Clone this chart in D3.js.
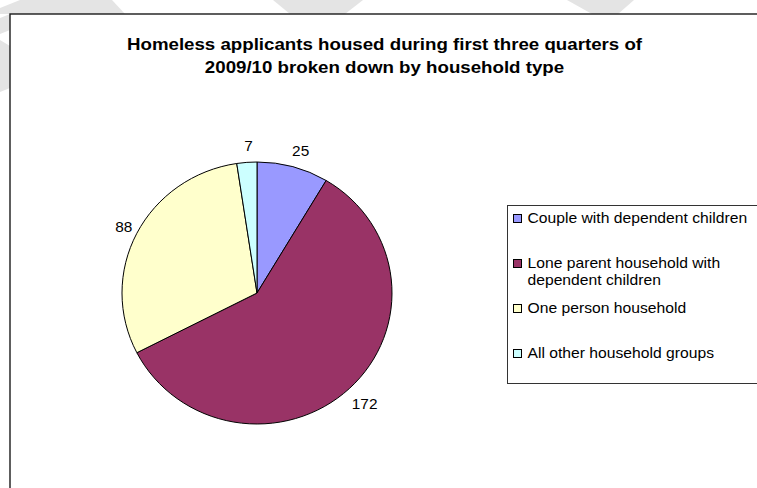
<!DOCTYPE html>
<html>
<head>
<meta charset="utf-8">
<script src="https://cdn.jsdelivr.net/npm/d3@7"></script>
<style>
  html, body { margin: 0; padding: 0; background: #ffffff; }
  svg { display: block; }
  text { font-family: Arial, "Liberation Sans", Helvetica, sans-serif; fill: #000; }
</style>
</head>
<body>
<svg id="chart" width="757" height="488"></svg>
<script>
// Household types housed in the first three quarters of 2009/10
const categories = [
  "Couple with dependent children",
  "Lone parent household with dependent children",
  "One person household",
  "All other household groups"
];
const legendLines = [
  ["Couple with dependent children"],
  ["Lone parent household with", "dependent children"],
  ["One person household"],
  ["All other household groups"]
];
const values = [25, 172, 88, 7];
const colors = ["#9999FF", "#993366", "#FFFFCC", "#CCFFFF"];
const titleLines = [
  "Homeless applicants housed during first three quarters of",
  "2009/10 broken down by household type"
];

const W = 757, H = 488;
const svg = d3.select("#chart");

// faint watermark shapes behind the chart area
const wm = svg.append("g").attr("fill", "#e4e4e4");
const wmShapes = [
  [[20, 0], [112, 0], [125, 14], [0, 14], [0, 8]],
  [[273, 0], [363, 0], [345, 14], [290, 14]],
  [[567, 0], [634, 0], [618, 14], [592, 14]],
  [[0, 18], [10, 14], [10, 30], [0, 34]],
  [[0, 40], [10, 46], [10, 88], [0, 92]]
];
wm.selectAll("polygon").data(wmShapes).join("polygon")
  .attr("points", d => d.map(p => p.join(",")).join(" "));

// chart area frame (runs past the right and bottom edges)
svg.append("rect")
  .attr("x", 10).attr("y", 14)
  .attr("width", W + 40).attr("height", H + 40)
  .attr("fill", "#ffffff")
  .attr("stroke", "#1a1a1a")
  .attr("stroke-width", 1.4);

// text is drawn slightly wide, as in the exported chart
const sx = 1.1;

// title
const title = svg.append("g");
title.selectAll("text").data(titleLines).join("text")
  .attr("transform", (d, i) => `translate(384.5,${50 + i * 23}) scale(${sx},1)`)
  .attr("text-anchor", "middle")
  .attr("font-weight", "bold")
  .attr("font-size", 17)
  .text(d => d);

// pie
const cx = 257, cy = 293, rx = 135, ry = 131;
const pie = d3.pie().sort(null).value(d => d);
const arcs = pie(values);
const arc = d3.arc().innerRadius(0).outerRadius(ry);

const pieG = svg.append("g")
  .attr("transform", `translate(${cx},${cy}) scale(${rx / ry},1)`);
pieG.selectAll("path").data(arcs).join("path")
  .attr("d", arc)
  .attr("fill", (d, i) => colors[i])
  .attr("stroke", "#000")
  .attr("stroke-width", 1)
  .attr("vector-effect", "non-scaling-stroke");

// value labels just outside each slice
const labelOffset = 18;
svg.append("g").selectAll("text").data(arcs).join("text")
  .attr("transform", d => {
    const a = (d.startAngle + d.endAngle) / 2;
    const x = cx + 3 + (rx + labelOffset) * Math.sin(a);
    const y = cy + 2 - (ry + labelOffset) * Math.cos(a);
    return `translate(${x},${y}) scale(${sx},1)`;
  })
  .attr("text-anchor", "middle")
  .attr("dy", "0.36em")
  .attr("font-size", 14)
  .text(d => d.data);

// legend
const legendBox = { x: 507.5, y: 205.5, w: 300, h: 178 };
svg.append("rect")
  .attr("x", legendBox.x).attr("y", legendBox.y)
  .attr("width", legendBox.w).attr("height", legendBox.h)
  .attr("fill", "#ffffff")
  .attr("stroke", "#333")
  .attr("stroke-width", 1);

const ly = d3.scalePoint().domain(categories).range([218.5, 353.5]);
const items = svg.append("g").selectAll("g").data(categories).join("g")
  .attr("transform", d => `translate(0,${ly(d)})`);
items.append("rect")
  .attr("x", 513.5).attr("y", -4)
  .attr("width", 8).attr("height", 8)
  .attr("fill", (d, i) => colors[i])
  .attr("stroke", "#000")
  .attr("stroke-width", 1);
items.each(function (d, i) {
  d3.select(this).selectAll("text").data(legendLines[i]).join("text")
    .attr("transform", (t, j) => `translate(527.5,${4.5 + j * 17}) scale(1.12,1)`)
    .attr("font-size", 14)
    .text(t => t);
});
</script>
</body>
</html>
